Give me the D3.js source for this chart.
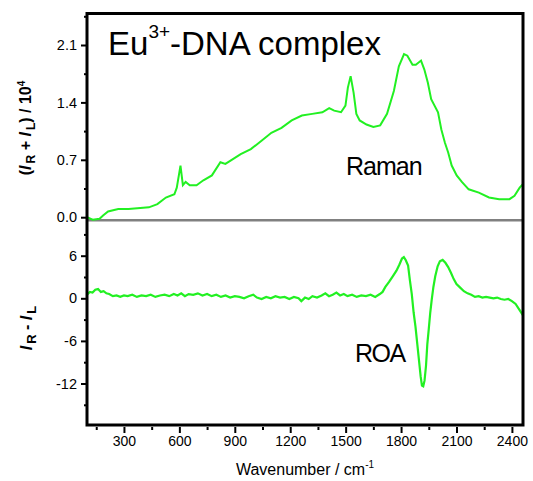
<!DOCTYPE html>
<html>
<head>
<meta charset="utf-8">
<script src="https://cdn.jsdelivr.net/npm/d3@7"></script>
<style>
  body { margin: 0; background: #fff; }
  svg text { font-family: "Liberation Sans", Arial, sans-serif; fill: #000; }
</style>
</head>
<body>
<svg id="chart"></svg>
<script>
// Raman spectrum (I_R + I_L) / 10^4
const ramanWn = [100, 131, 168, 187, 214, 269, 325, 435, 481, 527, 573, 586, 606, 619, 634, 656, 693, 730, 776, 822, 849, 877, 932, 987, 1043, 1098, 1153, 1208, 1263, 1319, 1374, 1411, 1438, 1475, 1499, 1512, 1527, 1543, 1558, 1576, 1613, 1650, 1687, 1724, 1761, 1788, 1816, 1834, 1862, 1880, 1908, 1926, 1945, 1963, 2000, 2018, 2037, 2055, 2074, 2101, 2129, 2166, 2221, 2276, 2331, 2387, 2414, 2442, 2458];
const ramanVal = [0.00, -0.03, -0.02, 0.02, 0.07, 0.10, 0.10, 0.12, 0.16, 0.24, 0.28, 0.36, 0.63, 0.39, 0.43, 0.39, 0.39, 0.45, 0.51, 0.67, 0.65, 0.69, 0.77, 0.83, 0.93, 1.03, 1.09, 1.18, 1.24, 1.26, 1.28, 1.33, 1.30, 1.28, 1.36, 1.58, 1.72, 1.52, 1.26, 1.18, 1.13, 1.10, 1.12, 1.26, 1.54, 1.84, 1.99, 1.97, 1.86, 1.86, 1.91, 1.80, 1.64, 1.44, 1.28, 1.07, 0.91, 0.79, 0.63, 0.51, 0.43, 0.34, 0.30, 0.24, 0.22, 0.22, 0.26, 0.36, 0.40];

// ROA spectrum I_R - I_L
const roaWn = [100, 115, 130, 145, 160, 175, 190, 205, 220, 240, 260, 280, 300, 320, 345, 370, 395, 420, 445, 470, 495, 520, 545, 570, 590, 610, 630, 650, 675, 700, 725, 750, 775, 800, 825, 850, 875, 900, 925, 950, 975, 1000, 1020, 1045, 1070, 1095, 1120, 1145, 1170, 1195, 1220, 1245, 1260, 1280, 1300, 1320, 1345, 1370, 1390, 1410, 1430, 1450, 1470, 1490, 1510, 1535, 1560, 1585, 1610, 1635, 1660, 1685, 1700, 1715, 1735, 1755, 1775, 1790, 1805, 1815, 1825, 1838, 1848, 1858, 1868, 1878, 1888, 1898, 1906, 1913, 1920, 1927, 1935, 1942, 1950, 1958, 1966, 1975, 1985, 1998, 2010, 2025, 2040, 2055, 2070, 2085, 2100, 2120, 2140, 2160, 2180, 2200, 2220, 2240, 2260, 2280, 2300, 2320, 2340, 2360, 2380, 2400, 2420, 2440, 2460];
const roaVal = [0.5, 0.9, 0.8, 1.2, 1.3, 0.9, 1.0, 0.7, 0.6, 0.3, 0.4, 0.2, 0.4, 0.3, 0.5, 0.2, 0.4, 0.3, 0.5, 0.2, 0.4, 0.5, 0.3, 0.6, 0.4, 0.7, 0.3, 0.6, 0.5, 0.7, 0.4, 0.6, 0.3, 0.5, 0.2, 0.4, 0.1, 0.3, 0.2, 0.0, 0.3, 0.5, 0.1, -0.1, 0.2, 0.0, 0.3, 0.1, 0.2, -0.1, 0.2, 0.0, -0.4, 0.1, -0.1, 0.3, 0.1, 0.4, 0.7, 0.3, 0.5, 0.8, 0.4, 0.6, 0.3, 0.5, 0.2, 0.4, 0.3, 0.5, 0.2, 0.6, 0.9, 1.6, 2.3, 3.1, 3.9, 4.7, 5.6, 5.8, 5.4, 4.6, 2.5, 0.6, -2.0, -4.0, -6.5, -9.0, -11.0, -12.3, -12.4, -11.6, -9.5, -6.5, -4.3, -2.0, -0.2, 1.6, 3.1, 4.5, 5.2, 5.4, 5.0, 4.4, 3.6, 2.7, 2.0, 1.5, 1.0, 0.7, 0.5, 0.2, 0.3, 0.1, 0.2, 0.1, 0.0, 0.1, -0.1, -0.2, -0.1, -0.4, -0.8, -1.6, -2.4];

const xTicks = [300, 600, 900, 1200, 1500, 1800, 2100, 2400];
const xMinor = [150, 450, 750, 1050, 1350, 1650, 1950, 2250];
const upperTicks = [0, 0.7, 1.4, 2.1];
const upperMinor = [0.35, 1.05, 1.75, 2.45];
const lowerTicks = [-12, -6, 0, 6];
const lowerMinor = [-15, -9, -3, 3, 9];

const width = 533, height = 481;
const margin = {left: 87, top: 13.5, right: 10, bottom: 56};
const plotW = width - margin.left - margin.right;
const plotH = height - margin.top - margin.bottom;

const svg = d3.select("#chart")
    .attr("width", width)
    .attr("height", height);

const g = svg.append("g")
    .attr("transform", `translate(${margin.left},${margin.top})`);

const x = d3.scaleLinear().domain([100, 2460]).range([0, plotW]);
const yU = d3.scaleLinear().domain([0, 2.1]).range([203.7, 31.5]);
const yL = d3.scaleLinear().domain([0, 6]).range([284.8, 242.2]);

g.append("clipPath").attr("id", "clip")
    .append("rect").attr("width", plotW).attr("height", plotH);

// separator / zero line
g.append("line")
    .attr("x1", 0).attr("x2", plotW)
    .attr("y1", yL(11)).attr("y2", yL(11))
    .attr("stroke", "#808080")
    .attr("stroke-width", 2.5);

const raman = ramanWn.map((w, i) => [w, ramanVal[i]]);
const roa = roaWn.map((w, i) => [w, roaVal[i]]);

g.append("path")
    .datum(raman)
    .attr("clip-path", "url(#clip)")
    .attr("fill", "none")
    .attr("stroke", "#22f022")
    .attr("stroke-width", 2)
    .attr("d", d3.line().x(d => x(d[0])).y(d => yU(d[1])));

g.append("path")
    .datum(roa)
    .attr("clip-path", "url(#clip)")
    .attr("fill", "none")
    .attr("stroke", "#22f022")
    .attr("stroke-width", 2.2)
    .attr("d", d3.line().x(d => x(d[0])).y(d => yL(d[1])));

// axes
const styleAxis = sel => {
    sel.select(".domain").remove();
    sel.selectAll("line").attr("stroke", "#000").attr("stroke-width", 2);
    sel.selectAll("text").attr("fill", "#000");
};

g.append("g")
    .attr("transform", `translate(0,${plotH + 2})`)
    .call(d3.axisBottom(x).tickValues(xTicks).tickSize(6).tickPadding(3).tickFormat(d3.format("d")))
    .call(styleAxis)
    .selectAll("text").style("font-size", "14px");

g.append("g")
    .attr("transform", `translate(0,${plotH + 2})`)
    .call(d3.axisBottom(x).tickValues(xMinor).tickSize(3).tickFormat(""))
    .call(styleAxis);

g.append("g")
    .call(d3.axisLeft(yU).tickValues(upperTicks).tickSize(6).tickPadding(4).tickFormat(d3.format(".1f")))
    .call(styleAxis)
    .selectAll("text").style("font-size", "14.5px");

g.append("g")
    .call(d3.axisLeft(yU).tickValues(upperMinor).tickSize(3).tickFormat(""))
    .call(styleAxis);

g.append("g")
    .call(d3.axisLeft(yL).tickValues(lowerTicks).tickSize(6).tickPadding(4).tickFormat(d => String(d)))
    .call(styleAxis)
    .selectAll("text").style("font-size", "14.5px");

g.append("g")
    .call(d3.axisLeft(yL).tickValues(lowerMinor).tickSize(3).tickFormat(""))
    .call(styleAxis);

// frame
g.append("rect")
    .attr("width", plotW)
    .attr("height", plotH)
    .attr("fill", "none")
    .attr("stroke", "#000")
    .attr("stroke-width", 3);

// title
const title = svg.append("text")
    .attr("x", 108)
    .attr("y", 55)
    .style("font-size", "33px");
title.append("tspan").text("Eu");
title.append("tspan").attr("dy", -17).style("font-size", "19px").text("3+");
title.append("tspan").attr("dy", 17).text("-DNA complex");

svg.append("text")
    .attr("x", 346)
    .attr("y", 175)
    .style("font-size", "25px")
    .style("letter-spacing", "-1px")
    .text("Raman");

svg.append("text")
    .attr("x", 355)
    .attr("y", 362)
    .style("font-size", "25px")
    .style("letter-spacing", "-1.5px")
    .text("ROA");

// y titles
const yt1 = svg.append("text")
    .attr("transform", "translate(31,128) rotate(-90)")
    .attr("text-anchor", "middle")
    .style("font-size", "16px")
    .style("font-weight", "bold");
yt1.append("tspan").text("(");
yt1.append("tspan").style("font-style", "italic").text("I");
yt1.append("tspan").attr("dy", 4).attr("dx", 2).style("font-size", "12px").text("R");
yt1.append("tspan").attr("dy", -4).text(" + ");
yt1.append("tspan").style("font-style", "italic").text("I");
yt1.append("tspan").attr("dy", 4).attr("dx", 2).style("font-size", "12px").text("L");
yt1.append("tspan").attr("dy", -4).text(") / 10");
yt1.append("tspan").attr("dy", -6).style("font-size", "10px").text("4");

const yt2 = svg.append("text")
    .attr("transform", "translate(32,328) rotate(-90)")
    .attr("text-anchor", "middle")
    .style("font-size", "16px")
    .style("font-weight", "bold");
yt2.append("tspan").style("font-style", "italic").text("I");
yt2.append("tspan").attr("dy", 4).attr("dx", 2).style("font-size", "13px").text("R");
yt2.append("tspan").attr("dy", -4).text(" - ");
yt2.append("tspan").style("font-style", "italic").text("I");
yt2.append("tspan").attr("dy", 4).attr("dx", 2).style("font-size", "13px").text("L");

// x title
const xt = svg.append("text")
    .attr("x", 305)
    .attr("y", 475)
    .attr("text-anchor", "middle")
    .style("font-size", "16px");
xt.append("tspan").text("Wavenumber / cm");
xt.append("tspan").attr("dy", -7).style("font-size", "10px").text("-1");
</script>
</body>
</html>
